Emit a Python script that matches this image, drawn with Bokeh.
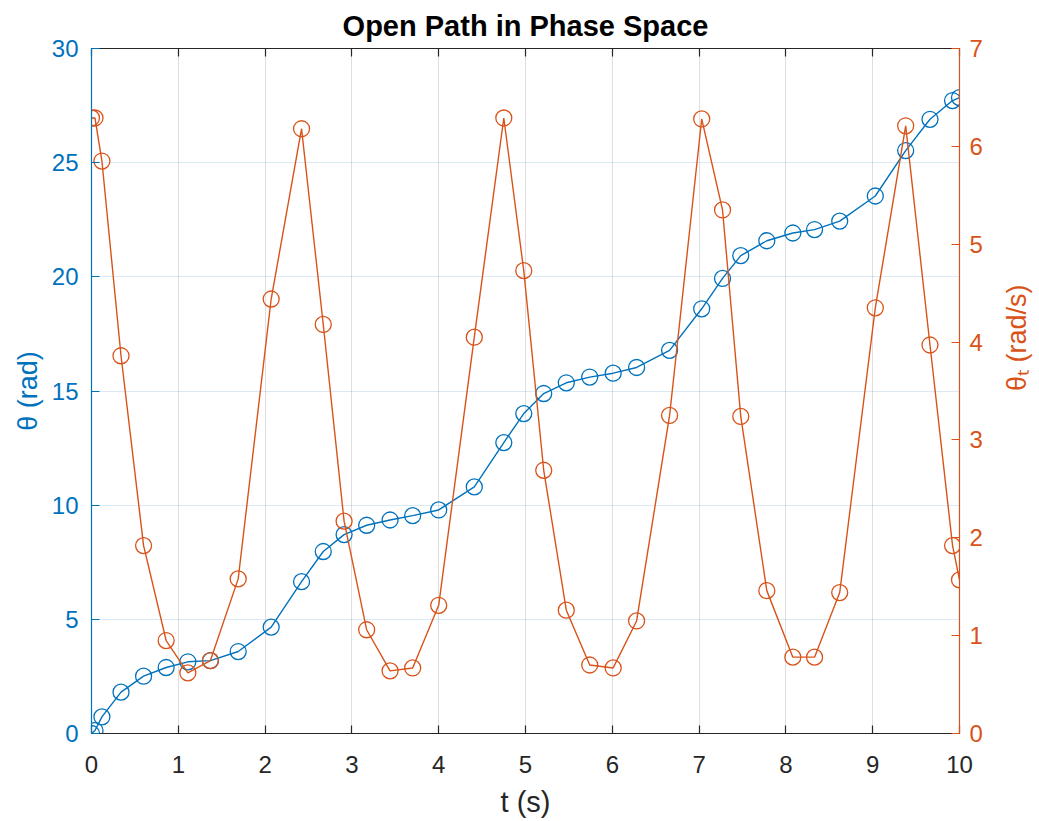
import math
from bokeh.plotting import figure
from bokeh.models import Range1d, LinearAxis, ColumnDataSource, FixedTicker
from bokeh.embed import file_html
from bokeh.resources import INLINE

# ---- data ----
t = [0.0, 0.04, 0.12, 0.34, 0.60, 0.86, 1.11, 1.37, 1.69, 2.07, 2.42, 2.67, 2.91,
     3.17, 3.44, 3.70, 4.00, 4.41, 4.75, 4.98, 5.21, 5.47, 5.74, 6.01, 6.28, 6.66,
     7.03, 7.27, 7.48, 7.78, 8.08, 8.33, 8.62, 9.03, 9.38, 9.66, 9.92, 10.0]
theta = [0.0, 0.13, 0.73, 1.81, 2.51, 2.89, 3.14, 3.19, 3.59, 4.66, 6.65, 7.97, 8.71,
         9.12, 9.35, 9.54, 9.79, 10.8, 12.74, 14.01, 14.89, 15.36, 15.61, 15.78, 16.03, 16.78,
         18.6, 19.93, 20.93, 21.58, 21.92, 22.07, 22.44, 23.54, 25.53, 26.9, 27.72, 27.85]
theta_t = [6.29, 6.29, 5.85, 3.86, 1.92, 0.95, 0.62, 0.745, 1.58, 4.44, 6.18, 4.18, 2.17,
           1.06, 0.64, 0.67, 1.31, 4.05, 6.29, 4.73, 2.69, 1.26, 0.70, 0.67, 1.15, 3.25,
           6.28, 5.35, 3.24, 1.46, 0.78, 0.78, 1.44, 4.35, 6.21, 3.97, 1.92, 1.57]

x_ticks = [0, 1, 2, 3, 4, 5, 6, 7, 8, 9, 10]
left_ticks = [0, 5, 10, 15, 20, 25, 30]
right_ticks = [0, 1, 2, 3, 4, 5, 6, 7]

title_text = "Open Path in Phase Space"
x_label = "t (s)"
left_label = "\u03b8 (rad)"
right_label = "\u03b8\u209c (rad/s)"

BLUE = "#0072BD"
ORANGE = "#D95319"
DARK = "#262626"
FONT = "Liberation Sans"

src = ColumnDataSource(dict(t=t, theta=theta, theta_t=theta_t))

p = figure(frame_width=868, frame_height=685,
           x_range=Range1d(0, 10), y_range=Range1d(0, 30),
           output_backend="svg", toolbar_location=None,
           min_border_left=91, min_border_right=70,
           min_border_top=47, min_border_bottom=84,
           title=title_text)
p.extra_y_ranges = {"r": Range1d(0, 7)}
p.outline_line_color = None
p.background_fill_color = "white"
p.border_fill_color = "white"

p.title.text_font = FONT
p.title.text_font_size = "29px"
p.title.text_font_style = "bold"
p.title.text_color = "black"
p.title.align = "center"
p.title.standoff = 14


def style_axis(ax, color, ticks, label_size="27px"):
    ax.ticker = FixedTicker(ticks=ticks)
    ax.axis_line_color = color
    ax.axis_line_width = 1.2
    ax.major_tick_line_color = color
    ax.major_tick_line_width = 1.2
    ax.major_tick_in = 8
    ax.major_tick_out = 0
    ax.minor_tick_line_color = None
    ax.major_label_text_color = color
    ax.major_label_text_font = FONT
    ax.major_label_text_font_size = "24px"
    ax.axis_label_text_color = color
    ax.axis_label_text_font = FONT
    ax.axis_label_text_font_size = label_size
    ax.axis_label_text_font_style = "normal"


xa = p.xaxis[0]
style_axis(xa, DARK, x_ticks, "29px")
xa.axis_label = x_label
xa.major_label_standoff = 22
xa.axis_label_standoff = 10

ya = p.yaxis[0]
style_axis(ya, BLUE, left_ticks)
ya.axis_label = left_label
ya.major_label_standoff = 13
ya.axis_label_standoff = 6

ra = LinearAxis(y_range_name="r")
style_axis(ra, ORANGE, right_ticks)
ra.axis_label = right_label
ra.major_label_standoff = 10
ra.axis_label_standoff = 31
ra.axis_label_orientation = math.pi / 2
p.add_layout(ra, "right")

ta = LinearAxis()
style_axis(ta, DARK, x_ticks)
ta.major_label_text_font_size = "0px"
ta.major_label_text_color = None
ta.major_label_standoff = 0
p.add_layout(ta, "above")

p.xgrid.ticker = FixedTicker(ticks=x_ticks)
p.xgrid.grid_line_color = DARK
p.xgrid.grid_line_alpha = 0.15
p.ygrid.ticker = FixedTicker(ticks=left_ticks)
p.ygrid.grid_line_color = BLUE
p.ygrid.grid_line_alpha = 0.15

p.line("t", "theta", source=src, line_color=BLUE, line_width=1.4)
p.scatter("t", "theta", source=src, marker="circle", size=16,
          fill_color=None, line_color=BLUE, line_width=1.3)

p.line("t", "theta_t", source=src, line_color=ORANGE, line_width=1.4, y_range_name="r")
p.scatter("t", "theta_t", source=src, marker="circle", size=16,
          fill_color=None, line_color=ORANGE, line_width=1.3, y_range_name="r")

open("out.html", "w").write(file_html(p, INLINE))
